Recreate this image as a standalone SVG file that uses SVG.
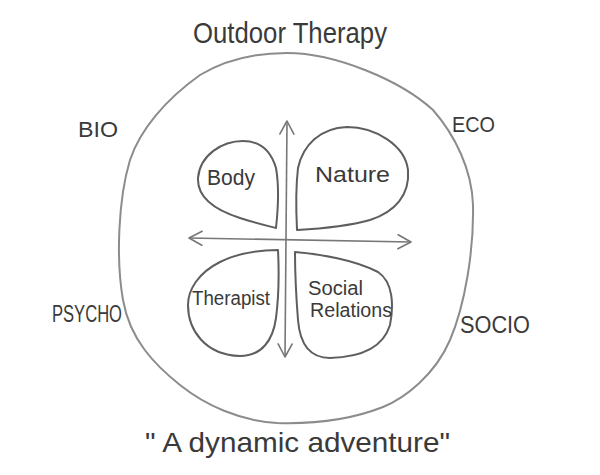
<svg xmlns="http://www.w3.org/2000/svg" width="600" height="475" viewBox="0 0 600 475">
<style>
  text { font-family: "Liberation Sans", Arial, sans-serif; fill: #3a3a3a; }
  .outer { fill: none; stroke: #8c8c8c; stroke-width: 2; stroke-linejoin: round; }
  .leaf { fill: none; stroke: #5e5e5e; stroke-width: 2; stroke-linejoin: round; }
  .axis { fill: none; stroke: #777; stroke-width: 1.6; }
</style>
<defs>
  <marker id="chev" viewBox="0 0 16 16" refX="15" refY="8" markerWidth="16" markerHeight="16" markerUnits="userSpaceOnUse" orient="auto-start-reverse">
    <path d="M2,1 L15,8 L2,15" fill="none" stroke="#777" stroke-width="1.6" stroke-linecap="round" stroke-linejoin="round"/>
  </marker>
</defs>
<rect width="600" height="475" fill="#ffffff"/>

<text id="title" x="193" y="43" font-size="30" textLength="194" lengthAdjust="spacingAndGlyphs">Outdoor Therapy</text>

<g id="outer">
  <path class="outer" d="M287,53 C335,53 400,80 433,110 C455,135 472,170 473,205 C474,250 465,305 450,340 C435,375 405,398 383,407 C350,420 310,424 277,423 C240,421 205,405 180,385 C155,365 130,340 123,300 C116,260 118,200 130,160 C140,130 165,100 200,75 C225,60 255,53 287,53 Z"/>
</g>

<g id="bio"><text x="78" y="137" font-size="22" textLength="40" lengthAdjust="spacingAndGlyphs">BIO</text></g>
<g id="eco"><text x="452" y="132" font-size="22" textLength="43" lengthAdjust="spacingAndGlyphs">ECO</text></g>
<g id="psycho"><text x="52" y="322" font-size="24" textLength="70" lengthAdjust="spacingAndGlyphs">PSYCHO</text></g>
<g id="socio"><text x="460" y="333" font-size="24" textLength="70" lengthAdjust="spacingAndGlyphs">SOCIO</text></g>

<g id="connectors">
  <path class="axis" d="M287,121 L285,357" marker-start="url(#chev)" marker-end="url(#chev)"/>
  <path class="axis" d="M189,238 L411,242" marker-start="url(#chev)" marker-end="url(#chev)"/>
</g>

<g id="body">
  <path class="leaf" d="M276,228 C278,210 279,185 276,168 C270,148 258,141 243,141 C222,141 200,155 198,178 C197,198 215,210 240,218 C255,223 268,226 276,228 Z"/>
  <text x="207" y="185" font-size="22" textLength="48" lengthAdjust="spacingAndGlyphs">Body</text>
</g>
<g id="nature">
  <path class="leaf" d="M297,230 C296,210 296,185 298,168 C303,145 320,128 347,127 C375,127 405,145 408,170 C410,195 395,212 370,220 C345,227 315,229 297,230 Z"/>
  <text x="315" y="182" font-size="22" textLength="75" lengthAdjust="spacingAndGlyphs">Nature</text>
</g>
<g id="therapist">
  <path class="leaf" d="M278,250 C260,250 240,252 220,262 C198,273 188,290 188,305 C188,330 205,355 240,356 C262,356 273,340 276,318 C279,295 279,270 278,250 Z"/>
  <text x="192" y="305" font-size="20" textLength="78" lengthAdjust="spacingAndGlyphs">Therapist</text>
</g>
<g id="social">
  <path class="leaf" d="M295,252 C320,254 355,260 378,272 C393,282 394,305 390,325 C384,345 365,357 330,358 C310,358 300,345 298,320 C296,295 295,270 295,252 Z"/>
  <text font-size="20"><tspan x="308" y="295" textLength="55" lengthAdjust="spacingAndGlyphs">Social</tspan><tspan x="310" y="317" textLength="82" lengthAdjust="spacingAndGlyphs">Relations</tspan></text>
</g>

<text id="motto" x="145" y="452" font-size="28" textLength="305" lengthAdjust="spacingAndGlyphs">" A dynamic adventure"</text>
</svg>
